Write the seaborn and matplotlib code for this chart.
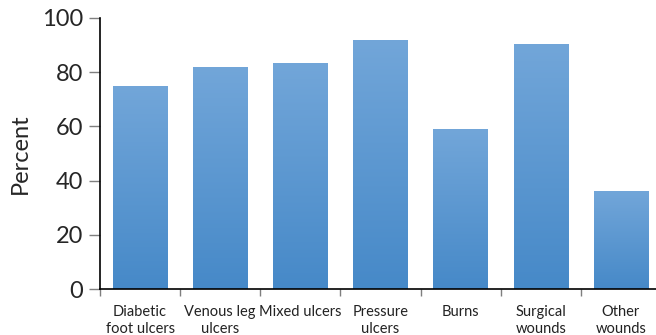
import numpy as np
import pandas as pd
import matplotlib
matplotlib.use("Agg")
import matplotlib.pyplot as plt
import seaborn as sns
from matplotlib.colors import LinearSegmentedColormap

# data
categories = ["Diabetic\nfoot ulcers", "Venous leg\nulcers", "Mixed ulcers",
              "Pressure\nulcers", "Burns", "Surgical\nwounds", "Other\nwounds"]
percent = [74.5, 81.5, 83.0, 91.4, 58.7, 89.9, 35.8]
y_ticks = [0, 20, 40, 60, 80, 100]

df = pd.DataFrame({"category": categories, "percent": percent})

sns.set_theme(style="white")
plt.rcParams['font.family'] = ['Lato', 'DejaVu Sans']

fig = plt.figure(figsize=(6.56, 3.35), dpi=100)
ax = fig.add_axes([100 / 656, (335 - 289.3) / 335, 561 / 656, 271.6 / 335])

sns.barplot(data=df, x="category", y="percent", ax=ax, width=0.68,
            color="#5b97d2", saturation=1)

# vertical gradient on each bar
cmap = LinearSegmentedColormap.from_list("bar", ["#4689c8", "#72a6d9"])
grad = np.linspace(0, 1, 256).reshape(-1, 1)
for p in ax.patches:
    x0, y0 = p.get_x(), p.get_y()
    w, h = p.get_width(), p.get_height()
    p.set_facecolor("none")
    p.set_edgecolor("none")
    ax.imshow(grad, cmap=cmap, origin="lower", aspect="auto",
              extent=[x0, x0 + w, y0, y0 + h], zorder=2)

ax.set_xlim(-0.5, len(categories) - 0.5)
ax.set_ylim(0, 100)
ax.set_yticks(y_ticks)
ax.set_yticklabels([str(t) for t in y_ticks], fontsize=17)
ax.set_xticks(np.arange(len(categories)) - 0.5, minor=False)
ax.set_xticklabels([])
ax.set_xticks(np.arange(len(categories)), minor=True)
ax.set_xticklabels(categories, minor=True, fontsize=10.5, linespacing=1.3,
                   color="#222222")
ax.tick_params(axis="x", which="minor", length=0, pad=11)
ax.tick_params(axis="x", which="major", length=5, color="#7f7f7f", width=1, direction="out")
ax.tick_params(axis="y", length=8, color="#7f7f7f", width=1, direction="out", pad=4)
ax.tick_params(axis="x", which="major", bottom=True)
ax.tick_params(axis="y", left=True)

ax.set_xlabel("")
ax.set_ylabel("Percent", fontsize=17, labelpad=8)

for s in ["top", "right"]:
    ax.spines[s].set_visible(False)
for s in ["left", "bottom"]:
    ax.spines[s].set_color("black")
    ax.spines[s].set_linewidth(1.2)

fig.savefig("out.png", dpi=100)
